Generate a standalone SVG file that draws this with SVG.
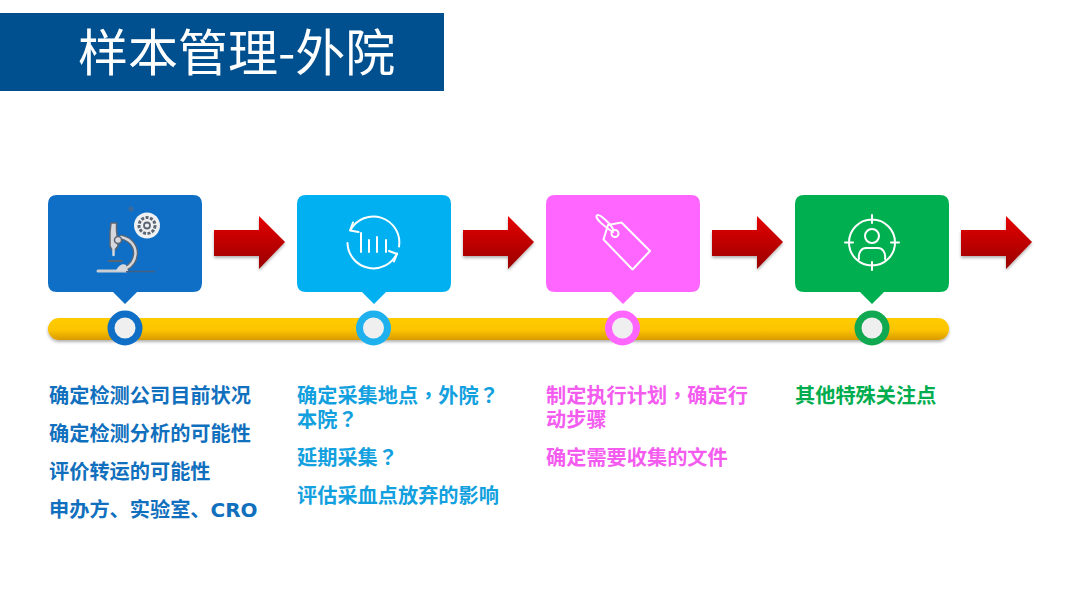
<svg xmlns="http://www.w3.org/2000/svg" xmlns:xlink="http://www.w3.org/1999/xlink" width="1080" height="607" viewBox="0 0 1080 607">
<defs>
<linearGradient id="bar" x1="0" y1="0" x2="0" y2="1"><stop offset="0" stop-color="#ffcc00"/><stop offset="0.55" stop-color="#fbc400"/><stop offset="1" stop-color="#d99a06"/></linearGradient>
<linearGradient id="red" x1="0" y1="0" x2="0" y2="1"><stop offset="0" stop-color="#e60606"/><stop offset="1" stop-color="#980000"/></linearGradient>
<filter id="sh" x="-10%" y="-30%" width="120%" height="170%"><feDropShadow dx="0" dy="2" stdDeviation="1.500" flood-color="#000" flood-opacity="0.3"/></filter>
<path id="callout" d="M9 0H145Q154 0 154 9V88Q154 97 145 97H89L77 109L65 97H9Q0 97 0 88V9Q0 0 9 0Z"/>
<path id="arrow" d="M0 35H45V21L71 47L45 74V61H0Z" fill="url(#red)" filter="url(#sh)"/>
</defs>
<style>
.cjk{font-family:"Noto Sans CJK SC","Liberation Sans",sans-serif}
.t{font-family:"Noto Sans CJK SC","Liberation Sans",sans-serif;font-size:20.200px;font-weight:700}
.p{font-family:"Noto Sans CJK TC","Noto Sans CJK SC",sans-serif}
.l{font-family:"DejaVu Sans",sans-serif;font-size:20px}
.w{fill:none;stroke:#fff;stroke-width:2;stroke-linecap:round;stroke-linejoin:round}
.g{fill:none;stroke:#5c6672;stroke-width:2;stroke-linecap:round;stroke-linejoin:round}
.ring{stroke-width:7;fill:#efefef}
</style>
<rect width="1080" height="607" fill="#fff"/>
<g id="title">
<rect x="0" y="13" width="444" height="78" fill="#00508f"/>
<text class="cjk" x="78" y="71" font-size="50" fill="#fff">样本管理-外院</text>
</g>
<g id="timeline">
<rect x="48" y="318" width="901" height="22" rx="11" fill="url(#bar)" filter="url(#sh)"/>
</g>
<g id="connectors">
<use href="#arrow" transform="translate(214,195)"/>
<use href="#arrow" transform="translate(463,195)"/>
<use href="#arrow" transform="translate(712,195)"/>
<use href="#arrow" transform="translate(961,195)"/>
</g>
<g id="node1">
<use href="#callout" transform="translate(48,195)" fill="#0f6fc6"/>
<circle class="ring" cx="125" cy="328" r="14" stroke="#0f6fc6"/>
<g id="icon-microscope">
<path d="M98 271H126" stroke="#c9ced3" stroke-width="3" stroke-linecap="round"/>
<path d="M126 271.500H155" stroke="#45607e" stroke-width="1.500"/>
<path d="M120 237C129 238 136 245 135.500 254C135 261 131 266 125 269" fill="none" stroke="#5c6672" stroke-width="5"/>
<path d="M120 237C129 238 136 245 135.500 254C135 261 131 266 125 269" fill="none" stroke="#d5d8dc" stroke-width="2.500"/>
<path d="M111 223H116.500V230L118 246L115 250H112L110 246V232Z" fill="#d5d8dc" stroke="#5c6672" stroke-width="1.500" stroke-linejoin="round"/>
<path d="M113.500 250V255" stroke="#d5d8dc" stroke-width="2.500" stroke-linecap="round"/>
<path class="g" d="M109 261H122"/>
<path d="M116 271C118 265 123 263 126 265L128 271Z" fill="#d5d8dc"/>
<circle cx="118" cy="240" r="3.500" fill="#d5d8dc" stroke="#5c6672" stroke-width="1.500"/>
<circle cx="147" cy="225.500" r="13" fill="#eef0f2"/>
<circle cx="147" cy="225.500" r="8" fill="none" stroke="#5c6672" stroke-width="3" stroke-dasharray="3 1.500"/>
<circle cx="147" cy="225.500" r="3" fill="none" stroke="#5c6672" stroke-width="1.800"/>
<circle cx="131" cy="209" r="2.500" fill="#3f6a97"/>
</g>
<text class="t" fill="#1170bd"><tspan x="49" y="402.500">确定检测公司目前状况</tspan><tspan x="49" y="440.500">确定检测分析的可能性</tspan><tspan x="49" y="478.500">评价转运的可能性</tspan><tspan x="49" y="516.500">申办方、实验室、</tspan><tspan class="l">CRO</tspan></text>
</g>
<g id="node2">
<use href="#callout" transform="translate(297,195)" fill="#00b0f0"/>
<circle class="ring" cx="373.500" cy="328" r="14" stroke="#1fb1ee"/>
<g id="icon-cycle">
<path class="w" d="M350.500 230A26 26 0 0 1 399 246.500M397 253.500A26 26 0 0 1 347.500 243"/>
<path class="w" d="M353 222.500L350 230.500L358.500 232M389 251L397 254L394 261.500"/>
<path class="w" d="M361 233V252M369 240V252M377 237V252M386 240V252"/>
</g>
<text class="t" fill="#12a0de"><tspan x="297" y="402.500">确定采集地点<tspan class="p">&#xFF0C;</tspan>外院<tspan class="p">&#xFF1F;</tspan></tspan><tspan x="297" y="426.500">本院<tspan class="p">&#xFF1F;</tspan></tspan><tspan x="297" y="464.500">延期采集<tspan class="p">&#xFF1F;</tspan></tspan><tspan x="297" y="502.500">评估采血点放弃的影响</tspan></text>
</g>
<g id="node3">
<use href="#callout" transform="translate(546,195)" fill="#ff66ff"/>
<circle class="ring" cx="622.500" cy="328" r="14" stroke="#ff66ff"/>
<g id="icon-tag">
<path class="w" d="M603.500 239.500L608 225L621.500 222.500L650 251L632.500 269.500Z"/>
<circle class="w" cx="615" cy="233.500" r="3.500"/>
<path class="w" d="M613 232C606 228 597 220 596.500 217C596 214 600 215 602 217C607 221 611 225 613 229"/>
</g>
<text class="t" fill="#f45cf0"><tspan x="546" y="402.500">制定执行计划<tspan class="p">&#xFF0C;</tspan>确定行</tspan><tspan x="546" y="426.500">动步骤</tspan><tspan x="546" y="464.500">确定需要收集的文件</tspan></text>
</g>
<g id="node4">
<use href="#callout" transform="translate(795,195)" fill="#00b050"/>
<circle class="ring" cx="872" cy="328" r="14" stroke="#10a850"/>
<g id="icon-target">
<circle class="w" cx="872" cy="242.500" r="23"/>
<circle class="w" cx="872" cy="236" r="7"/>
<path class="w" d="M859 259C858 252 862 248 866 248H878C882 248 886 252 885 259"/>
<path class="w" d="M872 215V223M872 262V270M845 242.500H853M891 242.500H899"/>
</g>
<text class="t" fill="#00ad4e" x="795" y="402.500">其他特殊关注点</text>
</g>
</svg>
